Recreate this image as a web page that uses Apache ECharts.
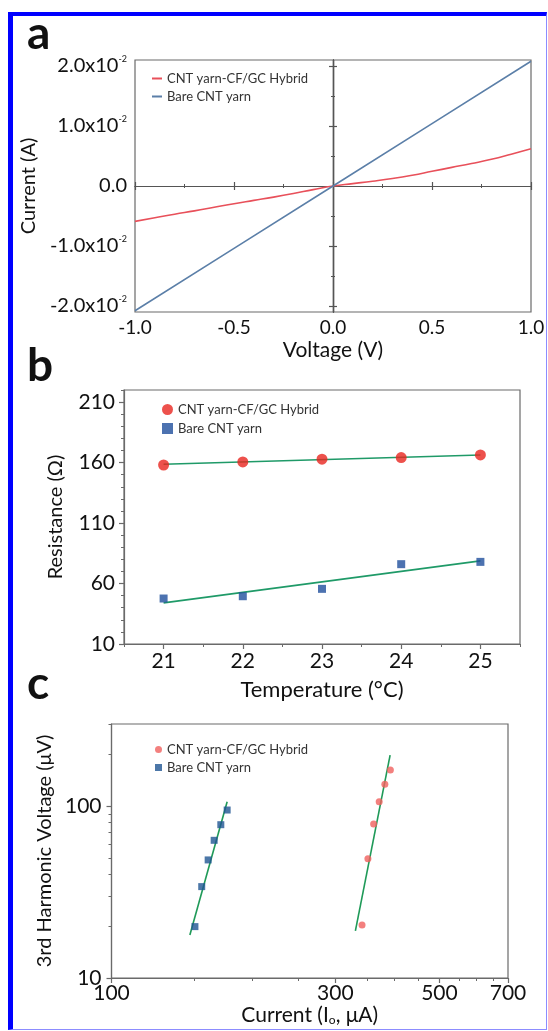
<!DOCTYPE html>
<html><head><meta charset="utf-8">
<script src="https://cdn.jsdelivr.net/npm/echarts@6/dist/echarts.min.js"></script>
<style>
html,body{margin:0;padding:0;background:#fff;}
#chart{width:548px;height:1031px;position:absolute;left:0;top:0;}
#frame{position:absolute;left:8px;top:12px;width:533px;height:1013px;border-top:4px solid #0000ff;border-left:5px solid #0000ff;border-right:1px solid #8c8cff;border-bottom:1px solid #8c8cff;pointer-events:none;}
</style></head>
<body>
<div id="chart"></div>
<div id="frame"></div>
<script>
// ---- Panel a: I-V curves ----
const ivVoltage = [-1,-0.9,-0.8,-0.7,-0.6,-0.5,-0.4,-0.3,-0.2,-0.1,0,0.1,0.2,0.3,0.4,0.5,0.6,0.7,0.8,0.9,1];
const ivHybrid = [-0.0059,-0.0053,-0.0047,-0.00415,-0.00355,-0.00295,-0.0024,-0.00185,-0.00125,-0.0006,0,0.0004,0.0008,0.00125,0.0018,0.00245,0.0031,0.00375,0.00445,0.0053,0.0062];
const ivBareVoltage = [-1,-0.5,0,0.5,1];
const ivBare = [-0.0208,-0.0104,0,0.0104,0.0208];
const ivYLabels = [-0.02,-0.01,0,0.01,0.02];
const ivYMajor = [-0.02,-0.01,0.01,0.02];
const ivYMinor = [-0.015,-0.005,0.005,0.015];

// ---- Panel b: resistance vs temperature ----
const tempC = [21,22,23,24,25];
const resHybrid = [158,160.5,162.8,164.1,166.3];
const resBare = [47.6,49.5,55.6,76,77.9];
const resFitT = [21,25];
const resFitHybrid = [158.6,166.3];
const resFitBare = [44,78.7];
const resYLabels = [10,60,110,160,210];
const resYMinor = [20,30,40,50,70,80,90,100,120,130,140,150,170,180,190,200,220];
const tempXLabels = [21,22,23,24,25];
const tempXMinor = [20.5,21.5,22.5,23.5,24.5,25.5];

// ---- Panel c: 3rd harmonic voltage ----
const harmBareI = [150.6,155.7,160.7,165.5,171,176.4];
const harmBareV = [19.9,34,48.6,63.2,77.9,94.8];
const harmHybridI = [342,352,362,372,382.5,393];
const harmHybridV = [20.3,49.4,78.5,106,134,162];
const harmFitBareI = [146.9,176.4];
const harmFitBareV = [17.8,106];
const harmFitHybridI = [331,392.5];
const harmFitHybridV = [18.8,198];
const harmXLabels = [100,300,500,700];
const harmXMinor = [150,200,250,350,400,450,550,600,650];
const harmYLabels = [10,100];
const harmYMinor = [20,30,40,50,60,70,80,90,200,300];

const FONT = 'Lato';
const AX = '#6a6a6a';
const zip = (a,b) => a.map((v,i)=>[v,b[i]]);
const nm = n => n.split('|')[0];

const chart = echarts.init(document.getElementById('chart'), null, {renderer:'canvas'});

function hiddenAxis(extra){
  return Object.assign({
    type:'value', axisLine:{show:false, onZero:false}, axisTick:{show:false},
    axisLabel:{show:false}, splitLine:{show:false}
  }, extra);
}
const legendText = {fontSize:13, color:'#333', fontFamily:FONT};

const option = {
  animation:false,
  backgroundColor:'transparent',
  title:[
    {text:'a', left:22, top:6, textStyle:{fontSize:46, fontWeight:'bold', fontFamily:FONT, color:'#111'}},
    {text:'b', left:22, top:338, textStyle:{fontSize:46, fontWeight:'bold', fontFamily:FONT, color:'#111'}},
    {text:'c', left:22, top:656, textStyle:{fontSize:46, fontWeight:'bold', fontFamily:FONT, color:'#111'}}
  ],
  grid:[
    {left:135, top:60, width:396, height:252, show:true, borderColor:AX, borderWidth:1.2, backgroundColor:'transparent', outerBoundsMode:'none'},
    {left:124, top:390, width:396, height:254, show:true, borderColor:AX, borderWidth:1.2, backgroundColor:'transparent', outerBoundsMode:'none'},
    {left:111.5, top:724, width:396.5, height:254, show:true, borderColor:AX, borderWidth:1.2, backgroundColor:'transparent', outerBoundsMode:'none'}
  ],
  legend:[
    {data:['CNT yarn-CF/GC Hybrid|a','Bare CNT yarn|a'], formatter:nm, orient:'vertical', left:147, top:67,
     icon:'rect', itemWidth:10, itemHeight:2, itemGap:5, itemTextGap:7, selectedMode:false,
     textStyle:legendText},
    {data:['CNT yarn-CF/GC Hybrid|b','Bare CNT yarn|b'], formatter:nm, orient:'vertical', left:157, top:398,
     itemWidth:11, itemHeight:11, itemGap:6, itemTextGap:6, selectedMode:false,
     textStyle:legendText},
    {data:['CNT yarn-CF/GC Hybrid|c','Bare CNT yarn|c'], formatter:nm, orient:'vertical', left:150, top:738,
     itemWidth:7, itemHeight:7, itemGap:5, itemTextGap:4, selectedMode:false,
     textStyle:legendText}
  ],
  xAxis:[
    // 0: panel a labels
    {gridIndex:0, type:'value', min:-1, max:1, interval:0.5, position:'bottom',
     axisLine:{show:false, onZero:false}, axisTick:{show:false}, splitLine:{show:false},
     axisLabel:{margin:6, fontSize:19, color:'#111', fontFamily:FONT, formatter:v=>v.toFixed(1)},
     name:'Voltage (V)', nameLocation:'middle', nameGap:28,
     nameTextStyle:{fontSize:21, color:'#111', fontFamily:FONT}},
    // 1,2: panel a zero line with crossing ticks
    hiddenAxis({gridIndex:0, min:-1, max:1, interval:0.5, position:'bottom',
     axisLine:{show:true, onZero:true, onZeroAxisIndex:0, lineStyle:{color:'#555', width:1.2}},
     axisTick:{show:true, inside:false, length:4, lineStyle:{color:'#555', width:1.2}},
     minorTick:{show:true, splitNumber:2, length:2, lineStyle:{color:'#555', width:1}}}),
    hiddenAxis({gridIndex:0, min:-1, max:1, interval:0.5, position:'bottom',
     axisLine:{show:true, onZero:true, onZeroAxisIndex:0, lineStyle:{color:'#555', width:1.2}},
     axisTick:{show:true, inside:true, length:4, lineStyle:{color:'#555', width:1.2}},
     minorTick:{show:true, splitNumber:2, length:2, lineStyle:{color:'#555', width:1}}}),
    // 3: panel b main
    {gridIndex:1, type:'value', min:20.5, max:25.5, position:'bottom',
     axisLine:{show:true, onZero:false, lineStyle:{color:AX, width:1.2}},
     axisTick:{show:true, length:5, customValues:tempXLabels, lineStyle:{color:AX, width:1.2}},
     axisLabel:{customValues:tempXLabels, margin:7, fontSize:21, color:'#111', fontFamily:FONT},
     splitLine:{show:false},
     name:'Temperature (°C)', nameLocation:'middle', nameGap:35,
     nameTextStyle:{fontSize:22, color:'#111', fontFamily:FONT}},
    // 4: panel b minor ticks
    hiddenAxis({gridIndex:1, min:20.5, max:25.5, position:'bottom',
     axisTick:{show:true, length:3, customValues:tempXMinor, lineStyle:{color:AX, width:1}}}),
    // 5: panel c main
    {gridIndex:2, type:'log', logBase:10, min:100, max:700, position:'bottom',
     axisLine:{show:true, onZero:false, lineStyle:{color:AX, width:1.2}},
     axisTick:{show:true, length:5, customValues:harmXLabels, lineStyle:{color:AX, width:1.2}},
     axisLabel:{customValues:harmXLabels, margin:5, fontSize:21, color:'#111', fontFamily:FONT, formatter:v=>String(Math.round(v))},
     splitLine:{show:false}, minorTick:{show:false}, minorSplitLine:{show:false},
     name:'Current (I{sub|o}, μA)', nameLocation:'middle', nameGap:27,
     nameTextStyle:{fontSize:21, color:'#111', fontFamily:FONT,
       rich:{sub:{fontSize:12, color:'#111', fontFamily:FONT, verticalAlign:'bottom', padding:[8,0,0,0]}}}},
    // 6: panel c minor ticks
    {gridIndex:2, type:'log', logBase:10, min:100, max:700, position:'bottom',
     axisLine:{show:false, onZero:false}, axisLabel:{show:false}, splitLine:{show:false},
     axisTick:{show:true, length:3, customValues:harmXMinor, lineStyle:{color:AX, width:1}}}
  ],
  yAxis:[
    // 0: panel a labels
    {gridIndex:0, type:'value', min:-0.021, max:0.021, position:'left',
     axisLine:{show:false, onZero:false}, axisTick:{show:false}, splitLine:{show:false},
     axisLabel:{customValues:ivYLabels, margin:8, color:'#111', fontFamily:FONT,
       formatter:v=>{ if (Math.abs(v)<1e-9) return '{m|0.0}'; return '{m|'+(v*100).toFixed(1)+'x10}{e|-2}'; },
       rich:{m:{fontSize:20, color:'#111', fontFamily:FONT, lineHeight:22},
             e:{fontSize:9, color:'#111', fontFamily:FONT, verticalAlign:'top', lineHeight:22}}},
     name:'Current (A)', nameLocation:'middle', nameGap:96, nameRotate:90,
     nameTextStyle:{fontSize:20, color:'#111', fontFamily:FONT}},
    // 1-4: panel a zero line crossing ticks
    hiddenAxis({gridIndex:0, min:-0.021, max:0.021, position:'left',
     axisLine:{show:true, onZero:true, onZeroAxisIndex:0, lineStyle:{color:'#555', width:1.2}},
     axisTick:{show:true, inside:false, length:4, customValues:ivYMajor, lineStyle:{color:'#555', width:1.2}}}),
    hiddenAxis({gridIndex:0, min:-0.021, max:0.021, position:'left',
     axisLine:{show:true, onZero:true, onZeroAxisIndex:0, lineStyle:{color:'#555', width:1.2}},
     axisTick:{show:true, inside:true, length:4, customValues:ivYMajor, lineStyle:{color:'#555', width:1.2}}}),
    hiddenAxis({gridIndex:0, min:-0.021, max:0.021, position:'left',
     axisLine:{show:true, onZero:true, onZeroAxisIndex:0, lineStyle:{color:'#555', width:1.2}},
     axisTick:{show:true, inside:false, length:2, customValues:ivYMinor, lineStyle:{color:'#555', width:1}}}),
    hiddenAxis({gridIndex:0, min:-0.021, max:0.021, position:'left',
     axisLine:{show:true, onZero:true, onZeroAxisIndex:0, lineStyle:{color:'#555', width:1.2}},
     axisTick:{show:true, inside:true, length:2, customValues:ivYMinor, lineStyle:{color:'#555', width:1}}}),
    // 5: panel b main
    {gridIndex:1, type:'value', min:10, max:220, position:'left',
     axisLine:{show:true, onZero:false, lineStyle:{color:AX, width:1.2}},
     axisTick:{show:true, length:5, customValues:resYLabels, lineStyle:{color:AX, width:1.2}},
     axisLabel:{customValues:resYLabels, margin:9, fontSize:21, color:'#111', fontFamily:FONT},
     splitLine:{show:false},
     name:'Resistance (Ω)', nameLocation:'middle', nameGap:58, nameRotate:90,
     nameTextStyle:{fontSize:20, color:'#111', fontFamily:FONT}},
    // 6: panel b minor ticks
    hiddenAxis({gridIndex:1, min:10, max:220, position:'left',
     axisTick:{show:true, length:3, customValues:resYMinor, lineStyle:{color:AX, width:1}}}),
    // 7: panel c main
    {gridIndex:2, type:'log', logBase:10, min:10, max:300, position:'left',
     axisLine:{show:true, onZero:false, lineStyle:{color:AX, width:1.2}},
     axisTick:{show:true, length:5, customValues:harmYLabels, lineStyle:{color:AX, width:1.2}},
     axisLabel:{customValues:harmYLabels, margin:10, fontSize:21, color:'#111', fontFamily:FONT, formatter:v=>String(Math.round(v))},
     splitLine:{show:false}, minorTick:{show:false}, minorSplitLine:{show:false},
     name:'3rd Harmonic Voltage (μV)', nameLocation:'middle', nameGap:53, nameRotate:90,
     nameTextStyle:{fontSize:20, color:'#111', fontFamily:FONT}},
    // 8: panel c minor ticks
    {gridIndex:2, type:'log', logBase:10, min:10, max:300, position:'left',
     axisLine:{show:false, onZero:false}, axisLabel:{show:false}, splitLine:{show:false},
     axisTick:{show:true, length:3, customValues:harmYMinor, lineStyle:{color:AX, width:1}}}
  ],
  series:[
    {name:'CNT yarn-CF/GC Hybrid|a', type:'line', xAxisIndex:0, yAxisIndex:0, data:zip(ivVoltage, ivHybrid),
     symbol:'none', smooth:true, color:'#e8505a', lineStyle:{color:'#e8505a', width:1.6}, z:5},
    {name:'Bare CNT yarn|a', type:'line', xAxisIndex:0, yAxisIndex:0, data:zip(ivBareVoltage, ivBare),
     symbol:'none', color:'#5b7fa8', lineStyle:{color:'#5b7fa8', width:1.6}, z:5},

    {name:'fit b1', type:'line', xAxisIndex:3, yAxisIndex:5, data:zip(resFitT, resFitHybrid),
     symbol:'none', lineStyle:{color:'#1f9a68', width:1.6}, z:4},
    {name:'fit b2', type:'line', xAxisIndex:3, yAxisIndex:5, data:zip(resFitT, resFitBare),
     symbol:'none', lineStyle:{color:'#1f9a68', width:1.6}, z:4},
    {name:'CNT yarn-CF/GC Hybrid|b', type:'scatter', xAxisIndex:3, yAxisIndex:5, data:zip(tempC, resHybrid),
     symbol:'circle', symbolSize:11, itemStyle:{color:'#e8261f'}, z:5},
    {name:'Bare CNT yarn|b', type:'scatter', xAxisIndex:3, yAxisIndex:5, data:zip(tempC, resBare),
     symbol:'rect', symbolSize:8, itemStyle:{color:'#1f4f9c'}, z:5},

    {name:'fit c1', type:'line', xAxisIndex:5, yAxisIndex:7, data:zip(harmFitBareI, harmFitBareV),
     symbol:'none', lineStyle:{color:'#1f9a58', width:1.6}, z:4},
    {name:'fit c2', type:'line', xAxisIndex:5, yAxisIndex:7, data:zip(harmFitHybridI, harmFitHybridV),
     symbol:'none', lineStyle:{color:'#1f9a58', width:1.6}, z:4},
    {name:'CNT yarn-CF/GC Hybrid|c', type:'scatter', xAxisIndex:5, yAxisIndex:7, data:zip(harmHybridI, harmHybridV),
     symbol:'circle', symbolSize:7, itemStyle:{color:'#f0605e'}, z:5},
    {name:'Bare CNT yarn|c', type:'scatter', xAxisIndex:5, yAxisIndex:7, data:zip(harmBareI, harmBareV),
     symbol:'rect', symbolSize:7, itemStyle:{color:'#1f5592'}, z:5}
  ]
};
chart.setOption(option);
</script>
</body></html>
